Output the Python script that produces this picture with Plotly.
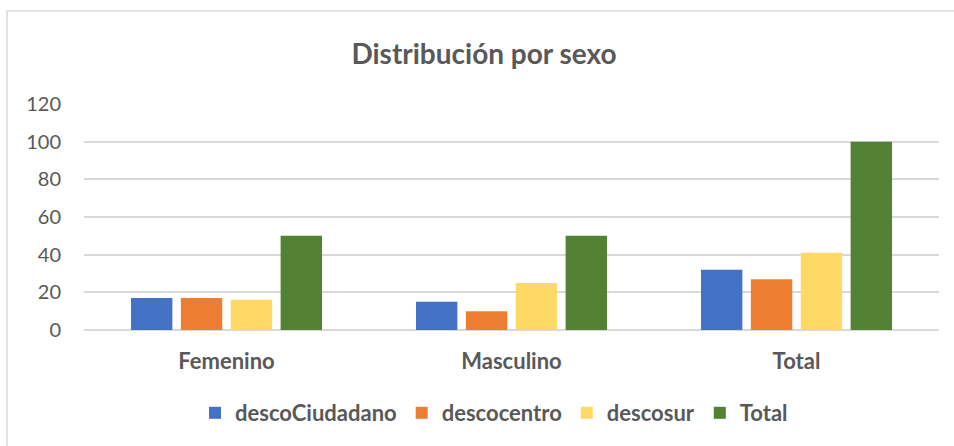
import plotly.graph_objects as go

categories = ["Femenino", "Masculino", "Total"]
series_names = ["descoCiudadano", "descocentro", "descosur", "Total"]
desco_ciudadano = [17, 15, 32]
desco_centro = [17, 10, 27]
desco_sur = [16, 25, 41]
total = [50, 50, 100]
y_ticks = [0, 20, 40, 60, 80, 100, 120]

colors = ["#4472C4", "#ED7D31", "#FFD966", "#548235"]
values = [desco_ciudadano, desco_centro, desco_sur, total]

fig = go.Figure()
for name, vals, col in zip(series_names, values, colors):
    fig.add_trace(go.Bar(x=categories, y=vals, name=f"<b>{name}</b>",
                         marker=dict(color=col, line=dict(width=0))))

L, R, T, B = 84, 15, 104, 116
W, H = 954, 446
pw, ph = W - L - R, H - T - B

def px2x(px):
    return (px - L) / pw

def py2y(py):
    return (H - B - py) / ph

FONT = "Lato"
GREY = "#595959"

fig.update_layout(
    width=W, height=H,
    margin=dict(l=L, r=R, t=T, b=B),
    paper_bgcolor="white", plot_bgcolor="white",
    barmode="group", bargap=0.3, bargroupgap=0.17,
    font=dict(family=FONT, color=GREY, size=20),
    title=dict(text="<b>Distribución por sexo</b>", x=484 / W, xref="container", xanchor="center",
               y=1 - 54 / H, yanchor="middle", font=dict(family=FONT, size=28, color=GREY)),
    legend=dict(orientation="h", x=px2x(494), xanchor="center", y=py2y(413), yanchor="middle",
                font=dict(family=FONT, size=22, color=GREY), itemwidth=30, traceorder="normal"),
    xaxis=dict(showgrid=False, showline=False, ticks="", ticklabelstandoff=16, tickangle=0,
               tickfont=dict(family=FONT, size=22, color=GREY)),
    yaxis=dict(range=[0, 120], tickvals=y_ticks, showgrid=True, gridcolor="#D9D9D9", gridwidth=1.5,
               zeroline=True, zerolinecolor="#D9D9D9", zerolinewidth=1.5, showline=False,
               tickfont=dict(family=FONT, size=20, color=GREY), ticks="", ticklabelstandoff=22),
    shapes=[dict(type="rect", xref="paper", yref="paper",
                 x0=px2x(7), x1=px2x(960), y0=py2y(452), y1=py2y(11),
                 line=dict(color="#D9D9D9", width=1.5), fillcolor="rgba(0,0,0,0)", layer="below")],
)
fig.update_xaxes(tickvals=categories, ticktext=[f"<b>{c}</b>" for c in categories])

fig.write_html("out.html", config={"displayModeBar": False},
               post_script="document.body.style.margin='0px';")
